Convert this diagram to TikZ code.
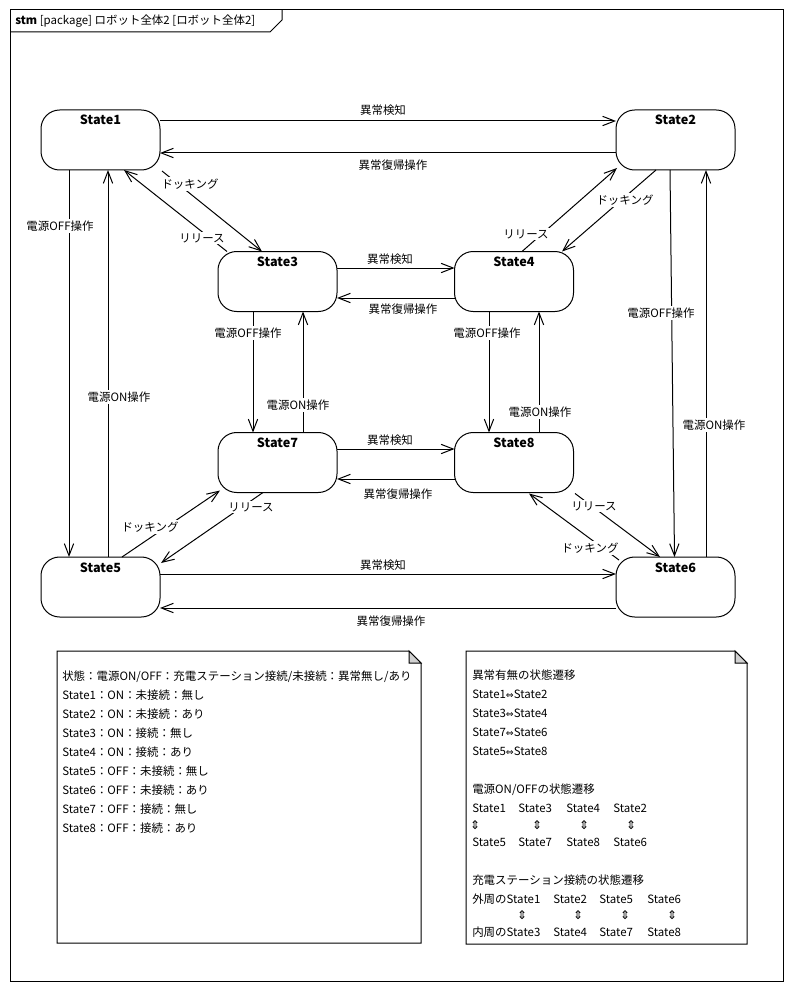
\documentclass[tikz,border=0pt]{standalone}
\usepackage{fontspec}
\setmainfont{Noto Sans CJK JP}
\newfontfamily\symfont{DejaVu Sans}
\usetikzlibrary{arrows.meta,calc}

% place text at a horizontal offset inside a note line
\newcommand\putat[2]{\makebox[0pt][l]{\hspace*{#1}#2}}
\newcommand\putmid[2]{\makebox[0pt][l]{\hspace*{#1}\makebox[0pt]{#2}}}
\newcommand\dbl{{\symfont\fontsize{7}{8}\selectfont ⇔}}
\newcommand\updn{{\symfont\fontsize{9}{9}\selectfont ⇕}}

\tikzset{
  frameline/.style={draw, line width=0.75pt},
  state/.style={draw, line width=0.75pt, rounded corners=14pt,
    minimum width=89.25pt, minimum height=45pt, inner sep=0pt, outer sep=0pt,
    text height=11.25pt, text depth=33.75pt,
    font=\fontsize{9.5}{11}\selectfont\bfseries},
  trans/.style={draw, line width=0.75pt, -{Straight Barb[length=9pt,width=7pt]}},
  lbl/.style={fill=white, inner sep=1pt, font=\fontsize{8.6}{10}\selectfont},
  notetext/.style={anchor=north west, inner sep=0pt, align=left,
    font=\fontsize{8.6}{14.25}\selectfont},
  fold/.style={draw, line width=0.75pt, fill=black!18},
}

\begin{document}
\begin{tikzpicture}[x=0.75pt, y=-0.75pt]
\useasboundingbox[fill=white] (0,0) rectangle (793,991);

% diagram frame with its name tab
\draw[frameline] (10,10) rectangle (783,981);
\draw[frameline] (10,32) -- (270,32) -- (282,20) -- (282,10);
\node[anchor=west, inner sep=0pt, font=\fontsize{8.6}{10}\selectfont] (title) at (15,21)
  {\textbf{stm} [package] ロボット全体2 [ロボット全体2]};

% states
\node[state] (s1) at (100.5,140) {State1};
\node[state] (s2) at (675.5,140) {State2};
\node[state] (s3) at (277.5,281.5) {State3};
\node[state] (s4) at (514,281.5) {State4};
\node[state] (s7) at (277.5,462.5) {State7};
\node[state] (s8) at (514,462.5) {State8};
\node[state] (s5) at (100.5,587) {State5};
\node[state] (s6) at (675.5,587) {State6};

% abnormality detected / recovered
\draw[trans] ($(s1.east)+(0,-19)$) -- ($(s2.west)+(0,-19)$);
\draw[trans] ($(s2.west)+(0,13)$) -- ($(s1.east)+(0,13)$);
\draw[trans] ($(s3.east)+(0,-13.5)$) -- ($(s4.west)+(0,-13.5)$);
\draw[trans] ($(s4.west)+(0,16.5)$) -- ($(s3.east)+(0,16.5)$);
\draw[trans] ($(s7.east)+(0,-13.5)$) -- ($(s8.west)+(0,-13.5)$);
\draw[trans] ($(s8.west)+(0,16.5)$) -- ($(s7.east)+(0,16.5)$);
\draw[trans] ($(s5.east)+(0,-13)$) -- ($(s6.west)+(0,-13)$);
\draw[trans] ($(s6.west)+(0,21)$) -- ($(s5.east)+(0,21)$);

% power off / on
\draw[trans] ($(s1.south)+(-31.5,0)$) -- ($(s5.north)+(-31.5,0)$);
\draw[trans] ($(s5.north)+(7.5,0)$) -- ($(s1.south)+(7.5,0)$);
\draw[trans] ($(s3.south)+(-24.5,0)$) -- ($(s7.north)+(-24.5,0)$);
\draw[trans] ($(s7.north)+(25.5,0)$) -- ($(s3.south)+(25.5,0)$);
\draw[trans] ($(s4.south)+(-25,0)$) -- ($(s8.north)+(-25,0)$);
\draw[trans] ($(s8.north)+(25,0)$) -- ($(s4.south)+(25,0)$);
\draw[trans] ($(s2.south)+(-5.5,0)$) -- ($(s6.north)+(-1,0)$);
\draw[trans] ($(s6.north)+(30.5,0)$) -- ($(s2.south)+(30.5,0)$);

% docking / release
\draw[trans] ($(s1.south east)+(2,1)$) -- ($(s3.north west)+(44,0)$);
\draw[trans] ($(s3.north west)+(9,0)$) -- ($(s1.south)+(23.5,0)$);
\draw[trans] ($(s2.south)+(-19.5,0)$) -- ($(s4.north)+(48,0)$);
\draw[trans] ($(s4.north)+(8,0)$) -- ($(s2.south west)+(1,-2)$);
\draw[trans] ($(s5.north)+(21.5,0)$) -- ($(s7.south west)+(2,-2)$);
\draw[trans] ($(s7.south)+(-14.5,0)$) -- ($(s5.north east)+(1,6)$);
\draw[trans] ($(s8.south east)+(1.5,1)$) -- ($(s6.north)+(-15.5,0)$);
\draw[trans] ($(s6.north west)+(3,3)$) -- ($(s8.south)+(15,1)$);

% transition labels
\node[lbl] (l1) at (383,110) {異常検知};
\node[lbl] (l2) at (393,165) {異常復帰操作};
\node[lbl] (l3) at (390,259) {異常検知};
\node[lbl] (l4) at (403,309) {異常復帰操作};
\node[lbl] (l5) at (390,440) {異常検知};
\node[lbl] (l6) at (398,494) {異常復帰操作};
\node[lbl] (l7) at (383,565) {異常検知};
\node[lbl] (l8) at (391,621) {異常復帰操作};
\node[lbl] (l9) at (60,226) {電源OFF操作};
\node[lbl] (l10) at (119,397) {電源ON操作};
\node[lbl] (l11) at (248,333) {電源OFF操作};
\node[lbl] (l12) at (298,405) {電源ON操作};
\node[lbl] (l13) at (487,333) {電源OFF操作};
\node[lbl] (l14) at (540,412) {電源ON操作};
\node[lbl] (l15) at (661,313) {電源OFF操作};
\node[lbl] (l16) at (714,425) {電源ON操作};
\node[lbl] (l17) at (190,184) {ドッキング};
\node[lbl] (l18) at (202,238) {リリース};
\node[lbl] (l19) at (625,200) {ドッキング};
\node[lbl] (l20) at (526,234) {リリース};
\node[lbl] (l21) at (150,527) {ドッキング};
\node[lbl] (l22) at (251,507) {リリース};
\node[lbl] (l23) at (594,506) {リリース};
\node[lbl] (l24) at (590,548) {ドッキング};

% note: meaning of each state
\draw[frameline, fill=white] (57,651) -- (409,651) -- (421,663) -- (421,943) -- (57,943) -- cycle;
\draw[fold] (409,651) -- (409,663) -- (421,663) -- cycle;
\node[notetext] (n1) at (62,671) {%
状態：電源ON/OFF：充電ステーション接続/未接続：異常無し/あり\\
State1：ON：未接続：無し\\
State2：ON：未接続：あり\\
State3：ON：接続：無し\\
State4：ON：接続：あり\\
State5：OFF：未接続：無し\\
State6：OFF：未接続：あり\\
State7：OFF：接続：無し\\
State8：OFF：接続：あり};

% note: transition pairs
\draw[frameline, fill=white] (466,651) -- (735,651) -- (747,663) -- (747,944) -- (466,944) -- cycle;
\draw[fold] (735,651) -- (735,663) -- (747,663) -- cycle;
\node[notetext] (n2) at (472,670) {%
異常有無の状態遷移\\
State1\dbl State2\\
State3\dbl State4\\
State7\dbl State6\\
State5\dbl State8\\[14.25pt]
電源ON/OFFの状態遷移\\
\putat{0pt}{State1}\putat{34.5pt}{State3}\putat{70.5pt}{State4}\putat{105.75pt}{State2}\\[-2pt]
\putmid{2.25pt}{\updn}\putmid{48.75pt}{\updn}\putmid{84pt}{\updn}\putmid{119.25pt}{\updn}\\[-1.5pt]
\putat{0pt}{State5}\putat{34.5pt}{State7}\putat{70.5pt}{State8}\putat{105.75pt}{State6}\\[14.25pt]
充電ステーション接続の状態遷移\\
\putat{0pt}{外周のState1}\putat{60.75pt}{State2}\putat{95.25pt}{State5}\putat{131.25pt}{State6}\\[-2pt]
\putmid{37.5pt}{\updn}\putmid{79.5pt}{\updn}\putmid{114.75pt}{\updn}\putmid{150pt}{\updn}\\[-1.5pt]
\putat{0pt}{内周のState3}\putat{60.75pt}{State4}\putat{95.25pt}{State7}\putat{131.25pt}{State8}};
\end{tikzpicture}
\end{document}
